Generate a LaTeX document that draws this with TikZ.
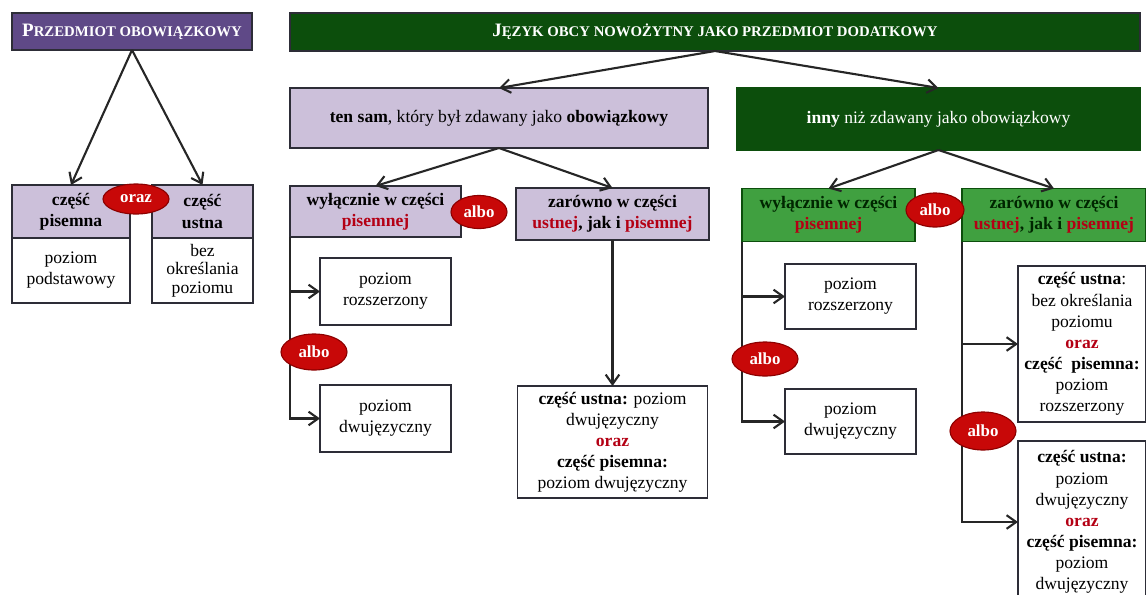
\documentclass[tikz,border=0pt]{standalone}
\usepackage{fontspec}
\setmainfont{Liberation Serif}
\usetikzlibrary{shapes.geometric,arrows.meta}

\definecolor{obowfill}{RGB}{95,73,135}
\definecolor{lightpurple}{RGB}{204,192,218}
\definecolor{boxline}{RGB}{45,45,55}
\definecolor{jezykfill}{RGB}{12,78,12}
\definecolor{midgreen}{RGB}{64,160,64}
\definecolor{albored}{RGB}{200,8,8}
\definecolor{alboline}{RGB}{140,0,0}
\definecolor{textred}{RGB}{180,0,20}

% fake small caps: first letter larger
\newcommand{\fsc}[2]{{\fontsize{13.5}{15}\selectfont #1}{\fontsize{10.5}{12}\selectfont #2}}
\newcommand{\red}[1]{\textcolor{textred}{#1}}

\tikzset{
  box/.style={draw=boxline, line width=1.2pt, align=center, inner sep=2pt, outer sep=0pt,
    font=\fontsize{12.5}{15}\selectfont},
  wh/.style 2 args={minimum width=#1*0.025cm, minimum height=#2*0.025cm},
  title/.style={box, text=white, font=\bfseries},
  hdpurple/.style={box, fill=lightpurple},
  hdgreen/.style={box, fill=midgreen, draw=jezykfill, text=black!85!green},
  plain/.style={box, fill=white},
  choice/.style={ellipse, fill=albored, draw=alboline, line width=0.8pt, text=white,
    inner sep=0pt, font=\bfseries\fontsize{12}{14}\selectfont},
  conn/.style={->, draw=black!85, line width=1.5pt},
}

\begin{document}
\begin{tikzpicture}[x=0.025cm, y=-0.025cm,
  >={Straight Barb[length=2.4mm,width=3.4mm]}]
\useasboundingbox (0,0) rectangle (1146,594);
\clip (0,0) rectangle (1146,594);

% przedmiot obowiazkowy
\node[title, fill=obowfill, wh={240}{37}] (obow) at (132,31.5) {\fsc{P}{RZEDMIOT OBOWIĄZKOWY}};
\node[hdpurple, wh={118}{53}] (pisH) at (71,211.5) {\textbf{część}\\\textbf{pisemna}};
\node[plain, wh={118}{65}] (pisL) at (71,270.5) {poziom\\podstawowy};
\node[hdpurple, wh={101}{53}] (ustH) at (202.5,211.5) {\textbf{część}\\\textbf{ustna}};
\node[plain, wh={101}{65}, font=\fontsize{12.5}{13}\selectfont] (ustL) at (202.5,270.5) {bez\\określania\\poziomu};
\draw[conn] (obow.south) -- (pisH.north);
\draw[conn] (obow.south) -- (ustH.north);

% przedmiot dodatkowy
\node[title, fill=jezykfill, wh={850}{38}] (jezyk) at (715,32) {\fsc{J}{ĘZYK OBCY NOWOŻYTNY JAKO PRZEDMIOT DODATKOWY}};
\node[hdpurple, wh={418}{60}] (tensam) at (499,118) {\textbf{ten sam}, który był zdawany jako \textbf{obowiązkowy}};
\node[box, fill=jezykfill, draw=jezykfill, text=white, wh={403}{62}] (inny) at (938.5,119) {\textbf{inny} niż zdawany jako obowiązkowy};
\draw[conn] (jezyk.south) -- (tensam.north);
\draw[conn] (jezyk.south) -- (inny.north);

% ten sam
\node[hdpurple, wh={171}{51}] (wylA) at (375.5,211.5) {\textbf{wyłącznie w części}\\\textbf{\red{pisemnej}}};
\node[hdpurple, wh={193}{52}] (zarA) at (612.5,214) {\textbf{zarówno w części}\\\textbf{\red{ustnej}, jak i \red{pisemnej}}};
\draw[conn] (tensam.south) -- (wylA.north);
\draw[conn] (tensam.south) -- (zarA.north);

\node[plain, wh={131}{67}] (rozA) at (385.5,291.5) {poziom\\rozszerzony};
\node[plain, wh={131}{67}] (dwuA) at (385.5,418.5) {poziom\\dwujęzyczny};
\draw[conn] (wylA.south west) |- (rozA.west);
\draw[conn] (wylA.south west) |- (dwuA.west);

\node[plain, wh={190}{112}] (bothA) at (612.5,442) {\textbf{część ustna:} poziom\\dwujęzyczny\\\textbf{\red{oraz}}\\\textbf{część pisemna:}\\poziom dwujęzyczny};
\draw[conn] (zarA.south) -- (bothA.north);

% inny
\node[hdgreen, wh={173}{53}] (wylB) at (828.5,215) {\textbf{wyłącznie w części}\\\textbf{\red{pisemnej}}};
\node[hdgreen, wh={184}{53}] (zarB) at (1054,215) {\textbf{zarówno w części}\\\textbf{\red{ustnej}, jak i \red{pisemnej}}};
\draw[conn] (inny.south) -- (wylB.north);
\draw[conn] (inny.south) -- (zarB.north);

\node[plain, wh={131}{65}] (rozB) at (850.5,296.5) {poziom\\rozszerzony};
\node[plain, wh={131}{65}] (dwuB) at (850.5,421.5) {poziom\\dwujęzyczny};
\draw[conn] (wylB.south west) |- (rozB.west);
\draw[conn] (wylB.south west) |- (dwuB.west);

\node[plain, wh={128}{156}] (ustB1) at (1082,344) {\textbf{część ustna}:\\bez określania\\poziomu\\\textbf{\red{oraz}}\\\textbf{część~~pisemna:}\\poziom\\rozszerzony};
\node[plain, wh={128}{162}] (ustB2) at (1082,522) {\textbf{część ustna:}\\poziom\\dwujęzyczny\\\textbf{\red{oraz}}\\\textbf{część pisemna:}\\poziom\\dwujęzyczny};
\draw[conn] (zarB.south west) |- (ustB1.west);
\draw[conn] (zarB.south west) |- (ustB2.west);

% oraz / albo
\node[choice, wh={66}{30}] (oraz) at (136,199) {oraz};
\node[choice, wh={56}{33}] (alboA) at (479,212) {albo};
\node[choice, wh={66}{36}] (alboAA) at (314,352) {albo};
\node[choice, wh={58}{34}] (alboB) at (935,210) {albo};
\node[choice, wh={66}{34}] (alboBB) at (765,359) {albo};
\node[choice, wh={66}{38}] (alboBC) at (983,431) {albo};
\end{tikzpicture}
\end{document}
